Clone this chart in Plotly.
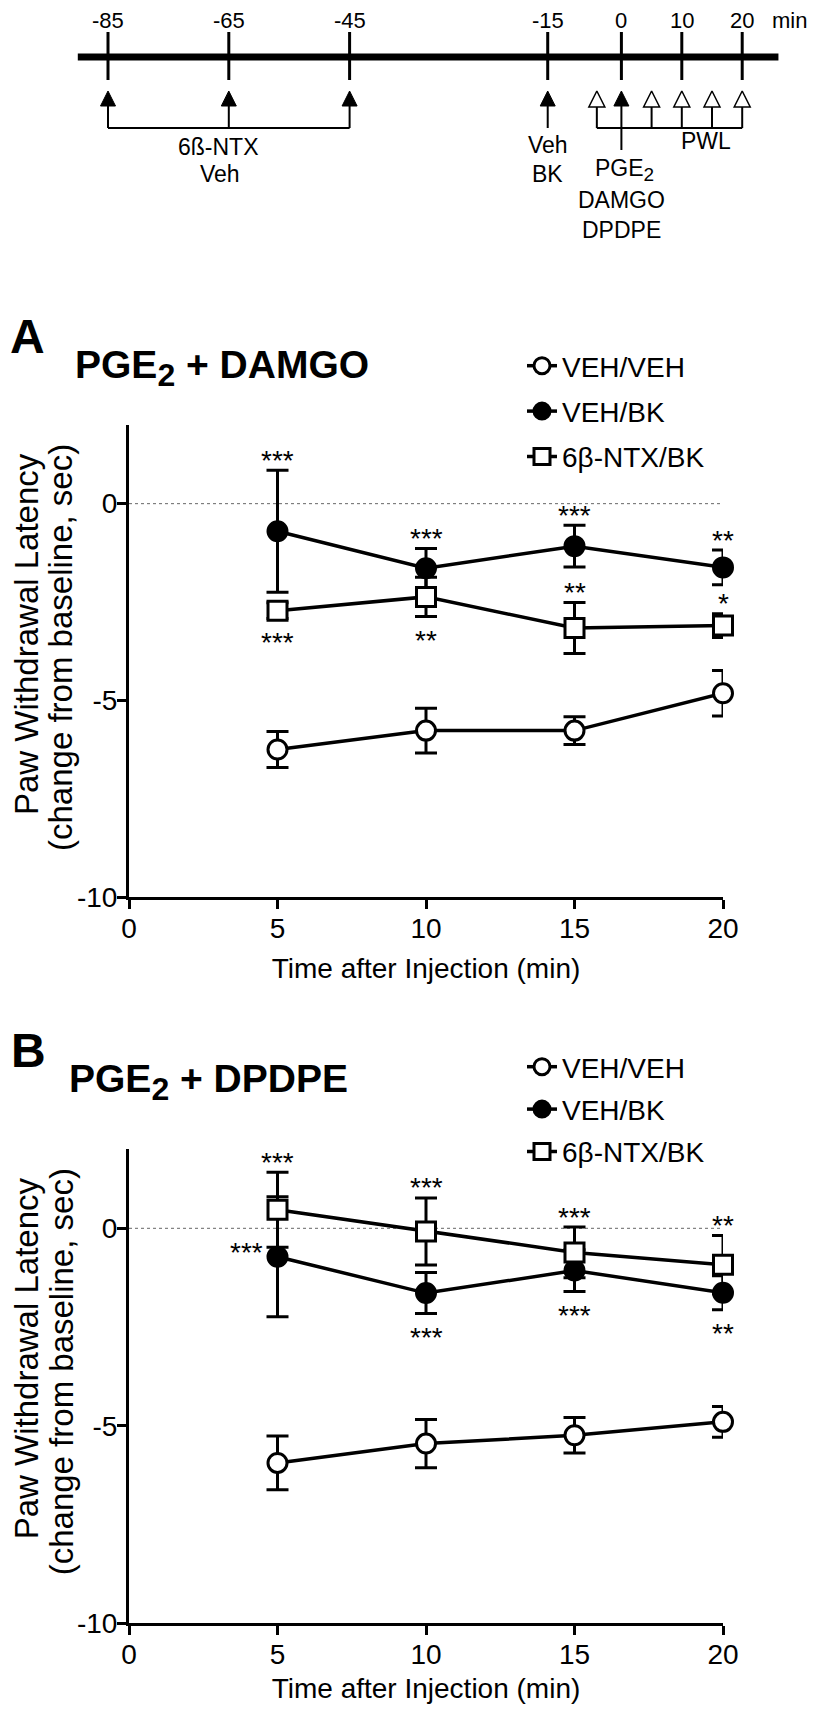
import numpy as np
import plotly.graph_objects as go

FONT = "Liberation Sans, Arial, Helvetica, sans-serif"
W, H = 816, 1713          # page size the figure must fill
OFF = 8                   # default page margin around the plot div
FW, FH = W - 2 * OFF, H - 2 * OFF

# ---------------- data ----------------
time_min = [5, 10, 15, 20]
series_names = ["VEH/VEH", "VEH/BK", "6β-NTX/BK"]

# Panel A : PGE2 + DAMGO  (mean, SEM)
a_veh_veh = [-6.25, -5.77, -5.77, -4.82]
a_veh_veh_err = [0.46, 0.57, 0.35, 0.58]
a_veh_bk = [-0.70, -1.64, -1.08, -1.62]
a_veh_bk_err = [1.55, 0.50, 0.53, 0.44]
a_ntx_bk = [-2.72, -2.37, -3.16, -3.10]
a_ntx_bk_err = [0.20, 0.50, 0.65, 0.30]

# Panel B : PGE2 + DPDPE  (mean, SEM)
b_veh_veh = [-5.94, -5.45, -5.24, -4.90]
b_veh_veh_err = [0.68, 0.61, 0.45, 0.39]
b_veh_bk = [-0.72, -1.64, -1.07, -1.63]
b_veh_bk_err = [1.52, 0.52, 0.53, 0.43]
b_ntx_bk = [0.47, -0.08, -0.61, -0.92]
b_ntx_bk_err = [0.95, 0.85, 0.64, 0.74]

# significance marks and where they sit relative to the point
a_sig_veh_bk = ["***", "***", "***", "**"]
a_sig_veh_bk_side = ["above", "above", "above", "above"]
a_sig_ntx_bk = ["***", "**", "**", "*"]
a_sig_ntx_bk_side = ["below", "below", "above", "above"]
b_sig_ntx_bk = ["***", "***", "***", "**"]
b_sig_ntx_bk_side = ["above", "above", "above", "above"]
b_sig_veh_bk = ["***", "***", "***", "**"]
b_sig_veh_bk_side = ["left", "below", "below", "below"]

# experimental timeline (min)
timeline_ticks = [-85, -65, -45, -15, 0, 10, 20]
ntx_times = [-85, -65, -45]
bk_time = -15
drug_time = 0
pwl_times = [-5, 5, 10, 15, 20]

# schematic (broken) time scale of the protocol diagram
sched_knots_t = [-85, -45, -15, 0, 20]
sched_knots_s = [-85, -45, -12.2, 0, 20]
timeline_extent = (-90, 26)


def sx(t):
    return float(np.interp(t, sched_knots_t, sched_knots_s))


def pxx(x):          # page pixel -> paper fraction
    return (x - OFF) / FW


def pxy(y):
    return 1 - (y - OFF) / FH


fig = go.Figure()

# ---------------- panels ----------------
styles = [
    dict(symbol="circle", color="white"),
    dict(symbol="circle", color="black"),
    dict(symbol="square", color="white"),
]


def add_panel(xa, ya, leg, tag, groups):
    for i, (name, (vals, errs), st) in enumerate(zip(series_names, groups, styles)):
        fig.add_trace(go.Scatter(
            x=time_min, y=vals, name=name, legend=leg, legendgroup=f"{tag}{i}",
            xaxis=xa, yaxis=ya, mode="lines+markers", cliponaxis=False,
            line=dict(color="black", width=3.5),
            marker=dict(symbol=st["symbol"], size=19, color=st["color"],
                        line=dict(color="black", width=3)),
            error_y=dict(type="data", array=errs, visible=True,
                         color="black", thickness=3, width=11),
        ))


add_panel("x", "y", "legend", "a",
          list(zip([a_veh_veh, a_veh_bk, a_ntx_bk],
                   [a_veh_veh_err, a_veh_bk_err, a_ntx_bk_err])))
add_panel("x2", "y2", "legend2", "b",
          list(zip([b_veh_veh, b_veh_bk, b_ntx_bk],
                   [b_veh_veh_err, b_veh_bk_err, b_ntx_bk_err])))

annotations = []
shapes = []


def sig(xref, yref, means, errs, labels, sides):
    for x, m, e, lab, side in zip(time_min, means, errs, labels, sides):
        a = dict(xref=xref, yref=yref, x=x, text=lab, showarrow=False,
                 font=dict(family=FONT, size=28, color="black"),
                 yanchor="middle")
        if side == "above":
            a.update(y=m + e, yshift=10, xanchor="center")
        elif side == "below":
            a.update(y=m - e, yshift=-24, xanchor="center")
        else:
            a.update(y=m, yshift=4, xanchor="right", xshift=-13)
        annotations.append(a)


sig("x", "y", a_veh_bk, a_veh_bk_err, a_sig_veh_bk, a_sig_veh_bk_side)
sig("x", "y", a_ntx_bk, a_ntx_bk_err, a_sig_ntx_bk, a_sig_ntx_bk_side)
sig("x2", "y2", b_ntx_bk, b_ntx_bk_err, b_sig_ntx_bk, b_sig_ntx_bk_side)
sig("x2", "y2", b_veh_bk, b_veh_bk_err, b_sig_veh_bk, b_sig_veh_bk_side)

# dotted zero reference lines
for xr, yr in (("x", "y"), ("x2", "y2")):
    shapes.append(dict(type="line", xref=xr, yref=yr, x0=0, x1=20, y0=0, y1=0,
                       line=dict(color="#666666", width=1, dash="dot"), layer="below"))

SUB_BIG = "<sub><span style='font-size:32px'>2</span></sub>"
# panel letters, titles, y titles (page-pixel placement)
for letter, title, dy, lx, tx in (("A", "PGE" + SUB_BIG + " + DAMGO", 0, 8, 73),
                                  ("B", "PGE" + SUB_BIG + " + DPDPE", 714, 9, 67)):
    annotations.append(dict(xref="paper", yref="paper", x=pxx(lx), y=pxy(336 + dy),
                            text="<b>%s</b>" % letter, showarrow=False, xanchor="left",
                            yanchor="middle", font=dict(family=FONT, size=48, color="black")))
    annotations.append(dict(xref="paper", yref="paper", x=pxx(tx), y=pxy(368 + dy),
                            text="<b>%s</b>" % title, showarrow=False, xanchor="left",
                            yanchor="middle", font=dict(family=FONT, size=39, color="black")))
for dy in (0, 724.3):
    annotations.append(dict(xref="paper", yref="paper", x=pxx(26), y=pxy(634 + dy),
                            text="Paw Withdrawal Latency", showarrow=False, textangle=-90,
                            xanchor="center", yanchor="middle",
                            font=dict(family=FONT, size=33, color="black")))
    annotations.append(dict(xref="paper", yref="paper", x=pxx(61), y=pxy(648 + dy),
                            text="(change from baseline, sec)", showarrow=False, textangle=-90,
                            xanchor="center", yanchor="middle",
                            font=dict(family=FONT, size=33, color="black")))

# ---------------- protocol timeline (x: schematic min, y: page px) ----------------
shapes.append(dict(type="line", xref="x3", yref="y3", x0=timeline_extent[0], x1=timeline_extent[1],
                   y0=57, y1=57, line=dict(color="black", width=7)))
for t in timeline_ticks:
    shapes.append(dict(type="line", xref="x3", yref="y3", x0=sx(t), x1=sx(t), y0=32, y1=80,
                       line=dict(color="black", width=3)))
    annotations.append(dict(xref="x3", yref="y3", x=sx(t), y=20, text=str(t), showarrow=False,
                            xanchor="center", yanchor="middle",
                            font=dict(family=FONT, size=22, color="black")))
annotations.append(dict(xref="x3", yref="y3", x=sx(timeline_ticks[-1]), xshift=28, y=20, text="min",
                        showarrow=False, xanchor="left", yanchor="middle",
                        font=dict(family=FONT, size=22, color="black")))

TIP = 91
HEAD = 16
thin = dict(color="black", width=2)
for t in ntx_times:
    shapes.append(dict(type="line", xref="x3", yref="y3", x0=sx(t), x1=sx(t), y0=TIP + 8, y1=128, line=thin))
shapes.append(dict(type="line", xref="x3", yref="y3", x0=sx(ntx_times[0]), x1=sx(ntx_times[-1]),
                   y0=128, y1=128, line=thin))
shapes.append(dict(type="line", xref="x3", yref="y3", x0=sx(bk_time), x1=sx(bk_time), y0=TIP + 8, y1=128, line=thin))
shapes.append(dict(type="line", xref="x3", yref="y3", x0=sx(drug_time), x1=sx(drug_time), y0=TIP + 8, y1=150, line=thin))
for t in pwl_times:
    shapes.append(dict(type="line", xref="x3", yref="y3", x0=sx(t), x1=sx(t), y0=TIP + HEAD, y1=128, line=thin))
shapes.append(dict(type="line", xref="x3", yref="y3", x0=sx(pwl_times[0]), x1=sx(pwl_times[-1]),
                   y0=128, y1=128, line=thin))

filled = ntx_times + [bk_time, drug_time]
fig.add_trace(go.Scatter(x=[sx(t) for t in filled], y=[TIP] * len(filled), xaxis="x3", yaxis="y3",
                         mode="markers", showlegend=False, cliponaxis=False, hoverinfo="skip",
                         marker=dict(symbol="arrow-up", size=15, color="black",
                                     line=dict(color="black", width=1))))
fig.add_trace(go.Scatter(x=[sx(t) for t in pwl_times], y=[TIP] * len(pwl_times), xaxis="x3", yaxis="y3",
                         mode="markers", showlegend=False, cliponaxis=False, hoverinfo="skip",
                         marker=dict(symbol="arrow-up", size=HEAD, color="white",
                                     line=dict(color="black", width=1.5))))

tl_font = dict(family=FONT, size=23, color="black")
for txt, t, xs, y in (("6ß-NTX", ntx_times[1], -10, 147), ("Veh", ntx_times[1], -9, 174),
                      ("Veh", bk_time, 0, 145), ("BK", bk_time, 0, 174),
                      ("PGE<sub><span style='font-size:19px'>2</span></sub>", drug_time, 3, 170),
                      ("DAMGO", drug_time, 0, 200),
                      ("DPDPE", drug_time, 0, 230), ("PWL", pwl_times[3], -6, 141)):
    annotations.append(dict(xref="x3", yref="y3", x=sx(t), xshift=xs, y=y, text=txt, showarrow=False,
                            xanchor="center", yanchor="middle", font=tl_font))

# ---------------- layout ----------------
tickfont = dict(family=FONT, size=28, color="black")
title_font = dict(family=FONT, size=28, color="black")
xcommon = dict(range=[0, 20], tickvals=[0, 5, 10, 15, 20], showline=True, linewidth=3,
               linecolor="black", ticks="outside", ticklen=9, tickwidth=3, tickcolor="black",
               ticklabelstandoff=-5,
               showgrid=False, zeroline=False, tickfont=tickfont, fixedrange=True, automargin=False,
               domain=[pxx(129), pxx(723)])
ycommon = dict(range=[-10, 2], tickvals=[-10, -5, 0], ticktext=["-10", "-5", "0"], showline=True,
               linewidth=3, linecolor="black", ticks="outside", ticklen=9, tickwidth=3,
               ticklabelstandoff=-6,
               tickcolor="black", showgrid=False, zeroline=False, tickfont=tickfont, fixedrange=True,
               automargin=False)

legend_common = dict(xanchor="left", yanchor="top", bgcolor="rgba(0,0,0,0)", borderwidth=0,
                     font=dict(family=FONT, size=28, color="black"), itemwidth=30,
                     traceorder="grouped")

TL_X0, TL_SCALE = 108, 6.04   # page x of -85 min, px per schematic minute
fig.update_layout(
    template="none",
    width=FW, height=FH, margin=dict(l=0, r=0, t=0, b=0, pad=0, autoexpand=False),
    paper_bgcolor="white", plot_bgcolor="white",
    font=dict(family=FONT, color="black"),
    xaxis=dict(xcommon, anchor="y",
               title=dict(text="Time after Injection (min)", font=title_font, standoff=16)),
    yaxis=dict(ycommon, anchor="x", domain=[pxy(897), pxy(425)]),
    xaxis2=dict(xcommon, anchor="y2",
                title=dict(text="Time after Injection (min)", font=title_font, standoff=10)),
    yaxis2=dict(ycommon, anchor="x2", domain=[pxy(1623.3), pxy(1149.3)]),
    xaxis3=dict(domain=[0, 1],
                range=[-85 + (OFF - TL_X0) / TL_SCALE, -85 + (OFF + FW - TL_X0) / TL_SCALE],
                visible=False, anchor="y3", fixedrange=True, automargin=False),
    yaxis3=dict(domain=[pxy(250), 1], range=[250, OFF], visible=False, anchor="x3",
                fixedrange=True, automargin=False),
    legend=dict(legend_common, x=pxx(522), y=pxy(341), tracegroupgap=6),
    legend2=dict(legend_common, x=pxx(522), y=pxy(1042), tracegroupgap=3),
    annotations=annotations,
    shapes=shapes,
    showlegend=True,
)

fig.write_html("out.html")
